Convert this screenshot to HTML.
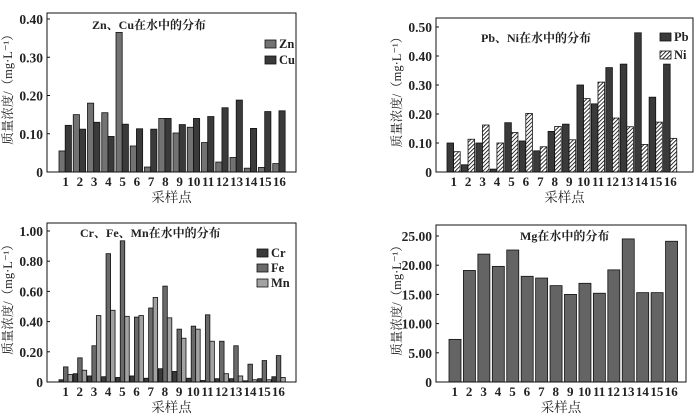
<!DOCTYPE html>
<html><head><meta charset="utf-8">
<style>
html,body{margin:0;padding:0;background:#fff;}
svg{display:block;font-family:"Liberation Serif","Noto Serif CJK SC",serif;}
</style></head>
<body>
<svg id="c" width="700" height="419" viewBox="0 0 700 419" xmlns="http://www.w3.org/2000/svg">
<defs>
<pattern id="hatch" patternUnits="userSpaceOnUse" width="2.8" height="2.8" patternTransform="rotate(45)">
<rect width="2.8" height="2.8" fill="#fff"/>
<line x1="0" y1="0" x2="0" y2="2.8" stroke="#111" stroke-width="1.7"/>
</pattern>
</defs>
</svg>
<script>
const sites = ["1","2","3","4","5","6","7","8","9","10","11","12","13","14","15","16"];
const znVals = [0.055,0.15,0.18,0.155,0.365,0.068,0.013,0.14,0.102,0.117,0.077,0.026,0.038,0.01,0.012,0.022];
const cuVals = [0.122,0.112,0.13,0.093,0.125,0.113,0.112,0.14,0.124,0.14,0.145,0.168,0.188,0.114,0.158,0.16];
const pbVals = [0.1,0.025,0.1,0.01,0.17,0.107,0.073,0.14,0.165,0.3,0.235,0.36,0.372,0.48,0.258,0.372];
const niVals = [0.07,0.113,0.162,0.1,0.136,0.202,0.087,0.157,0.111,0.253,0.31,0.186,0.156,0.095,0.172,0.116];
const crVals = [0.015,0.055,0.04,0.035,0.03,0.04,0.025,0.088,0.07,0.025,0.01,0.022,0.022,0.008,0.022,0.035];
const feVals = [0.1,0.16,0.24,0.85,0.935,0.43,0.49,0.635,0.35,0.37,0.445,0.27,0.24,0.118,0.142,0.175];
const mnVals = [0.05,0.078,0.44,0.475,0.435,0.44,0.56,0.425,0.29,0.35,0.27,0.055,0.04,0.015,0.015,0.03];
const mgVals = [7.3,19.1,21.9,19.8,22.6,18.1,17.8,16.5,15.0,16.9,15.2,19.2,24.5,15.3,15.3,24.1];
const ticks1 = [0,0.1,0.2,0.3,0.4];
const tickLabels1 = ["0","0.10","0.20","0.30","0.40"];
const ticks2 = [0,0.1,0.2,0.3,0.4,0.5];
const tickLabels2 = ["0","0.10","0.20","0.30","0.40","0.50"];
const ticks3 = [0,0.2,0.4,0.6,0.8,1.0];
const tickLabels3 = ["0","0.20","0.40","0.60","0.80","1.00"];
const ticks4 = [0,5,10,15,20,25];
const tickLabels4 = ["0","5.00","10.00","15.00","20.00","25.00"];

const svg = document.getElementById('c');
const NS = 'http://www.w3.org/2000/svg';
function mk(tag, attrs, parent){
  const e = document.createElementNS(NS, tag);
  for (const k in attrs) e.setAttribute(k, attrs[k]);
  (parent||svg).appendChild(e);
  return e;
}

function panel(cfg){
  const g = mk('g', {});
  
  
  const {L,R,T,B,yMax,yTop} = cfg;
  const y = v => B - (v / yMax) * (B - yTop);
  const n = sites.length;
  const pitch = (cfg.x1 - cfg.x0) / n;
  const gx = i => cfg.x0 + i * pitch;
  cfg.series.forEach((s, si) => {
    s.vals.forEach((v, i) => {
      const bx = gx(i) + cfg.off + si * cfg.bw;
      const r = mk('rect', {x: bx, y: y(v), width: cfg.bw, height: B - y(v), fill: s.fill, stroke: '#111', 'stroke-width': 0.8}, g);
      
      
    });
  });
  const f = mk('rect', {x: L, y: T, width: R - L, height: B - T, fill: 'none', stroke: '#111', 'stroke-width': 1}, g);
  
  
  cfg.ticks.forEach((t, i) => {
    mk('line', {x1: L, x2: L + 3, y1: y(t), y2: y(t), stroke: '#111'}, g);
    const tl = mk('text', {x: L - 4, y: y(t) + 5, 'text-anchor': 'end', 'font-size': 13.5, 'font-weight': 'bold', fill: '#222'}, g);
    tl.textContent = cfg.tickLabels[i];
    
    
  });
  sites.forEach((s, i) => {
    const xl = mk('text', {x: gx(i) + pitch / 2 - 0.5, y: B + 14, 'text-anchor': 'middle', 'font-size': 13, 'font-weight': 'bold', fill: '#222'}, g);
    xl.textContent = s;
    
    
  });
  const xt = mk('text', {x: (L + R) / 2, y: B + 30, 'text-anchor': 'middle', 'font-size': 13.5, fill: '#222'}, g);
  xt.textContent = '采样点';
  
  
  const yc = (T + B) / 2 - 6;
  const yt = mk('text', {x: cfg.yTitleX, y: yc, 'text-anchor': 'middle', 'font-size': 12.5, fill: '#222', transform: 'rotate(-90 ' + cfg.yTitleX + ' ' + yc + ')'}, g);
  yt.textContent = '质量浓度/（mg·L⁻¹）';
  
  
  const tt = mk('text', {x: cfg.titleX, y: cfg.titleY, 'font-size': 12, 'font-weight': 'bold', fill: '#222'}, g);
  tt.textContent = cfg.title;
  
  
  if (cfg.legend) {
    cfg.series.forEach((s, si) => {
      const ly = cfg.legend.y + si * cfg.legend.dy;
      const lb = mk('rect', {x: cfg.legend.x, y: ly, width: 11, height: 8, fill: s.fill, stroke: '#111', 'stroke-width': 0.8}, g);
      
      
      const lt = mk('text', {x: cfg.legend.x + 14, y: ly + 8, 'font-size': 12.5, 'font-weight': 'bold', fill: '#222'}, g);
      lt.textContent = s.label;
      
      
    });
  }
}

panel({name:'zn-cu-chart', L:47, R:296, T:13, B:172, yMax:0.4, yTop:19, x0:59, x1:287, off:0, bw:6.2,
  ticks:ticks1, tickLabels:tickLabels1, yTitleX:12, title:'Zn、Cu在水中的分布', titleX:92, titleY:29,
  series:[{key:'zn',label:'Zn',vals:znVals,fill:'#727272'},{key:'cu',label:'Cu',vals:cuVals,fill:'#3a3a3a'}],
  legend:{x:265, y:40, dy:16}});
panel({name:'pb-ni-chart', L:436, R:693, T:18, B:172, yMax:0.5, yTop:27, x0:447, x1:678, off:0, bw:6.6,
  ticks:ticks2, tickLabels:tickLabels2, yTitleX:401, title:'Pb、Ni在水中的分布', titleX:481, titleY:42,
  series:[{key:'pb',label:'Pb',vals:pbVals,fill:'#3a3a3a'},{key:'ni',label:'Ni',vals:niVals,fill:'url(#hatch)'}],
  legend:{x:660, y:33, dy:18}});
panel({name:'cr-fe-mn-chart', L:47, R:296, T:223, B:382, yMax:1.0, yTop:231, x0:59, x1:286, off:0, bw:4.5,
  ticks:ticks3, tickLabels:tickLabels3, yTitleX:12, title:'Cr、Fe、Mn在水中的分布', titleX:80, titleY:237,
  series:[{key:'cr',label:'Cr',vals:crVals,fill:'#3a3a3a'},{key:'fe',label:'Fe',vals:feVals,fill:'#6a6a6a'},{key:'mn',label:'Mn',vals:mnVals,fill:'#a2a2a2'}],
  legend:{x:257, y:249, dy:15}});
panel({name:'mg-chart', L:436, R:686, T:225, B:382, yMax:25, yTop:236, x0:448, x1:679, off:1, bw:12,
  ticks:ticks4, tickLabels:tickLabels4, yTitleX:401, title:'Mg在水中的分布', titleX:520, titleY:240,
  series:[{key:'mg',label:'Mg',vals:mgVals,fill:'#646464'}], legend:null});
</script>
</body></html>
